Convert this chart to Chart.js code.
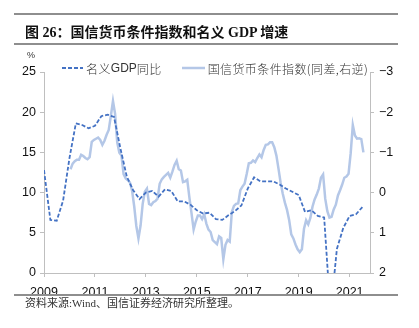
<!DOCTYPE html>
<html>
<head>
<meta charset="utf-8">
<script src="https://cdn.jsdelivr.net/npm/chart.js@4/dist/chart.umd.min.js"></script>
<style>
  html, body { margin: 0; padding: 0; background: #fff; }
  #wrap { position: relative; width: 419px; height: 328px; overflow: hidden; font-family: "Noto Sans CJK SC", sans-serif; }
  #c { position: absolute; left: 0; top: 0; }
  .rule { position: absolute; left: 14px; width: 384px; height: 2px; background: #8e8e8e; }
  #title { position: absolute; left: 25px; top: 24px; font-size: 14px; line-height: 18px; font-weight: 700; color: #111;
           font-family: "Liberation Serif", "Noto Sans CJK SC", serif; white-space: nowrap; }
  #unit { position: absolute; left: 27px; top: 49px; font-size: 9px; line-height: 12px; color: #333; font-family: "Liberation Sans", sans-serif; }
  #legend { position: absolute; top: 61px; left: 62px; height: 14px; display: flex; align-items: center; font-size: 12px; color: #333; white-space: nowrap; }
  #legend .item { display: flex; align-items: center; }
  #legend svg { margin-right: 3px; }
  #legend .lat { font-family: "Liberation Sans Narrow", "Liberation Sans", sans-serif; }
  #legend .cjk { font-family: "Noto Sans CJK SC", sans-serif; font-weight: 300; letter-spacing: 0.4px; }
  #source { position: absolute; left: 25px; top: 296px; font-size: 11px; line-height: 14px; color: #333;
            font-family: "Liberation Serif", "Noto Sans CJK SC", serif; white-space: nowrap; }
</style>
</head>
<body>
<div id="wrap">
  <canvas id="c" width="419" height="328"></canvas>
  <div class="rule" style="top:13px"></div>
  <div id="title">图 26：国信货币条件指数和名义 GDP 增速</div>
  <div class="rule" style="top:43px"></div>
  <div id="unit">%</div>
  <div id="legend">
    <div class="item">
      <svg width="21" height="4"><line x1="0" y1="2" x2="21" y2="2" stroke="#4472C4" stroke-width="1.8" stroke-dasharray="4 2"/></svg>
      <span class="cjk">名义</span><span class="lat">GDP</span><span class="cjk">同比</span>
    </div>
    <div class="item" style="margin-left:20px">
      <svg width="23" height="4"><line x1="0" y1="2" x2="23" y2="2" stroke="#B4C7E7" stroke-width="2.5"/></svg>
      <span class="cjk">国信货币条件指数(同差,右逆)</span>
    </div>
  </div>
  <div class="rule" style="top:294px"></div>
  <div id="source">资料来源:Wind、国信证券经济研究所整理。</div>
</div>
<script>
// Nominal GDP, year-on-year (%), quarterly from 2009Q1 to 2021Q3
const gdpFirstYear = 2009;
const gdpYoY = [
  12.8, 6.6, 6.5, 9.0, 14.3, 18.6, 18.4, 18.0, 18.3, 19.5, 19.7, 19.4,
  15.5, 12.0, 10.3, 9.2, 10.0, 10.2, 9.5, 10.4, 10.2, 8.9, 8.9, 8.5,
  7.8, 7.4, 7.5, 6.7, 6.6, 7.2, 7.7, 8.4, 10.5, 11.9, 11.4, 11.4,
  11.4, 11.0, 10.5, 10.1, 9.7, 7.6, 7.8, 7.1, 6.9, -5.0, 3.0, 5.6,
  7.1, 7.3, 8.2
];
const gdpQuarters = gdpYoY.map((_, i) => (gdpFirstYear + Math.floor(i / 4)) + 'Q' + (i % 4 + 1));

// Guosen monetary conditions index, year-on-year change, monthly from 2010-01 to 2021-07 (right axis, inverted)
const mciFirstYear = 2010;
const mciChange = [
  -0.58, -0.72, -0.78, -0.82, -0.82, -0.94, -0.91, -0.86, -0.83, -0.88, -1.26, -1.31,
  -1.34, -1.37, -1.31, -1.19, -1.29, -1.44, -1.56, -1.91, -2.28, -1.96, -1.25, -0.99,
  -0.92, -0.46, -0.35, -0.31, -0.25, -0.05, 0.34, 0.83, 1.14, 0.82, 0.28, -0.02,
  -0.10, 0.28, 0.31, 0.24, 0.21, 0.15, -0.22, -0.33, -0.39, -0.44, -0.49, -0.37,
  -0.52, -0.69, -0.79, -0.58, -0.55, -0.26, -0.28, -0.32, 0.12, 0.51, 0.92, 0.72,
  0.57, 0.57, 0.66, 0.54, 0.77, 0.92, 0.98, 1.18, 1.23, 1.28, 1.09, 1.13,
  1.66, 1.30, 1.18, 1.22, 0.48, 0.33, 0.28, 0.27, -0.06, -0.15, -0.22, -0.46,
  -0.73, -0.74, -0.80, -0.76, -0.86, -0.95, -0.88, -1.06, -1.19, -1.20, -1.25, -1.25,
  -1.13, -0.92, -0.59, -0.24, 0.03, 0.25, 0.43, 0.68, 1.04, 1.14, 1.29, 1.41,
  1.48, 1.41, 0.90, 0.69, 0.79, 0.63, 0.35, 0.17, 0.05, -0.10, -0.37, -0.45,
  0.15, 0.46, 0.62, 0.60, 0.42, 0.30, 0.07, -0.06, -0.20, -0.37, -0.40, -0.47,
  -0.98, -1.68, -1.42, -1.34, -1.35, -1.33, -1.00
];
const mciMonths = mciChange.map((_, i) => {
  const y = mciFirstYear + Math.floor(i / 12), m = i % 12 + 1;
  return y + '-' + String(m).padStart(2, '0');
});

// Axis ticks
const xTickYears = [2009, 2011, 2013, 2015, 2017, 2019, 2021];
const leftTicks = [0, 5, 10, 15, 20, 25];
const rightTicks = [-3, -2, -1, 0, 1, 2];

const quarterToX = q => { const [y, n] = q.split('Q'); return +y + (+n - 1) / 4; };
const monthToX = s => { const [y, m] = s.split('-'); return +y + (+m - 0.5) / 12; };

const gdpPoints = gdpQuarters.map((q, i) => ({ x: quarterToX(q), y: gdpYoY[i] }));
const mciPoints = mciMonths.map((m, i) => ({ x: monthToX(m), y: mciChange[i] }));

const axisGray = '#BFBFBF';
const tickFont = { family: '"Liberation Sans Narrow", "Liberation Sans", Arial, sans-serif', size: 12.5 };

const fixSize = (w) => (scale) => { scale.width = w; };

new Chart(document.getElementById('c'), {
  type: 'line',
  data: {
    datasets: [
      {
        label: '名义GDP同比',
        data: gdpPoints,
        yAxisID: 'yL',
        borderColor: '#4472C4',
        borderWidth: 1.8,
        borderDash: [4, 2],
        pointRadius: 0,
        tension: 0,
        order: 0
      },
      {
        label: '国信货币条件指数(同差,右逆)',
        data: mciPoints,
        yAxisID: 'yR',
        borderColor: '#B4C7E7',
        borderWidth: 2.5,
        pointRadius: 0,
        tension: 0,
        order: 1
      }
    ]
  },
  options: {
    responsive: false,
    animation: false,
    devicePixelRatio: 1,
    layout: { padding: { top: 72, left: 0, right: 0, bottom: 0 } },
    plugins: { legend: { display: false }, tooltip: { enabled: false } },
    scales: {
      x: {
        type: 'linear',
        min: 2009,
        max: 2021.8,
        afterBuildTicks: s => { s.ticks = xTickYears.map(v => ({ value: v })); },
        afterFit: s => { s.height = 55; },
        ticks: { callback: v => String(v), color: '#111', font: tickFont, padding: 8, maxRotation: 0 },
        grid: { drawOnChartArea: false, drawTicks: true, tickLength: 4, color: axisGray },
        border: { display: true, color: axisGray, width: 1 }
      },
      yL: {
        position: 'left',
        min: 0,
        max: 25,
        afterBuildTicks: s => { s.ticks = leftTicks.map(v => ({ value: v })); },
        afterFit: fixSize(44),
        ticks: { color: '#111', font: tickFont, padding: 4 },
        grid: { drawOnChartArea: false, drawTicks: true, tickLength: 4, color: axisGray },
        border: { display: true, color: axisGray, width: 1 }
      },
      yR: {
        position: 'right',
        reverse: true,
        min: -3,
        max: 2,
        afterBuildTicks: s => { s.ticks = rightTicks.map(v => ({ value: v })); },
        afterFit: fixSize(49),
        ticks: { color: '#111', font: tickFont, padding: 5, callback: v => (v < 0 ? '\u2212' + Math.abs(v) : String(v)) },
        grid: { drawOnChartArea: false, drawTicks: true, tickLength: 4, color: axisGray },
        border: { display: true, color: axisGray, width: 1 }
      }
    }
  }
});
</script>
</body>
</html>
